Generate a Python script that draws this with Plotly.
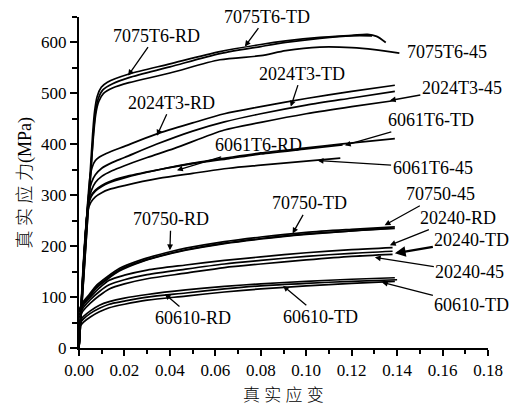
import plotly.graph_objects as go

# ---------------- data (true strain, true stress MPa) ----------------
strain_7075T6_RD = [0, 0.0060, 0.0069, 0.0080, 0.0098, 0.0125, 0.022, 0.040, 0.062, 0.080, 0.091, 0.106, 0.120, 0.127, 0.131, 0.135]
stress_7075T6_RD = [0, 420, 466, 494, 512, 522, 538, 558, 582, 596, 603, 610, 614, 616, 612, 600]
strain_7075T6_TD = [0, 0.0063, 0.0073, 0.0085, 0.0105, 0.0148, 0.022, 0.040, 0.062, 0.080, 0.091, 0.106, 0.120, 0.129]
stress_7075T6_TD = [0, 420, 465, 490, 507, 519, 531, 552, 578, 592, 600, 608, 613, 613]
strain_7075T6_45 = [0, 0.0064, 0.0074, 0.0087, 0.0108, 0.015, 0.022, 0.040, 0.062, 0.080, 0.091, 0.106, 0.120, 0.130, 0.141]
stress_7075T6_45 = [0, 418, 460, 484, 500, 511, 521, 540, 566, 574, 584, 591, 590, 586, 579]

strain_2024T3_RD = [0, 0.0048, 0.0058, 0.0072, 0.009, 0.012, 0.020, 0.034, 0.050, 0.064, 0.080, 0.100, 0.120, 0.139]
stress_2024T3_RD = [0, 335, 355, 368, 375, 382, 396, 420, 442, 460, 474, 490, 504, 516]
strain_2024T3_TD = [0, 0.0044, 0.0056, 0.0072, 0.010, 0.0145, 0.020, 0.034, 0.050, 0.064, 0.080, 0.100, 0.120, 0.139]
stress_2024T3_TD = [0, 305, 326, 340, 353, 364, 374, 400, 426, 444, 460, 477, 491, 504]
strain_2024T3_45 = [0, 0.0042, 0.0055, 0.0072, 0.010, 0.0145, 0.020, 0.030, 0.042, 0.064, 0.080, 0.100, 0.120, 0.139]
stress_2024T3_45 = [0, 290, 310, 325, 337, 348, 358, 374, 392, 428, 443, 460, 474, 486]

strain_6061T6_RD = [0, 0.0040, 0.0052, 0.0072, 0.010, 0.013, 0.020, 0.035, 0.050, 0.066, 0.080, 0.100, 0.116]
stress_6061T6_RD = [0, 280, 298, 310, 319, 326, 336, 350, 362, 372, 381, 391, 399]
strain_6061T6_TD = [0, 0.0040, 0.0052, 0.0072, 0.010, 0.013, 0.020, 0.035, 0.050, 0.066, 0.080, 0.100, 0.116, 0.139]
stress_6061T6_TD = [0, 278, 296, 308, 317, 324, 334, 350, 363, 374, 383, 393, 401, 411]
strain_6061T6_45 = [0, 0.0038, 0.0052, 0.0072, 0.010, 0.013, 0.020, 0.035, 0.050, 0.066, 0.080, 0.100, 0.115]
stress_6061T6_45 = [0, 268, 286, 297, 305, 311, 319, 333, 343, 353, 359, 367, 373]

strain_70750_RD = [0, 0.002, 0.0045, 0.0075, 0.0125, 0.0177, 0.028, 0.041, 0.047, 0.064, 0.080, 0.100, 0.120, 0.139]
stress_70750_RD = [75, 92, 105, 122, 140, 156, 174, 190, 196, 209, 218, 227, 233, 238]
strain_70750_TD = [0, 0.002, 0.0045, 0.0075, 0.0125, 0.0177, 0.028, 0.041, 0.047, 0.064, 0.080, 0.100, 0.120, 0.137]
stress_70750_TD = [72, 89, 102, 119, 137, 153, 171, 187, 193, 206, 215, 224, 230, 236]
strain_70750_45 = [0, 0.002, 0.0045, 0.0075, 0.0125, 0.0177, 0.028, 0.041, 0.047, 0.064, 0.080, 0.100, 0.120, 0.139]
stress_70750_45 = [70, 87, 100, 117, 135, 151, 170, 186, 192, 205, 214, 223, 230, 235]

strain_20240_RD = [0, 0.002, 0.005, 0.009, 0.0133, 0.020, 0.030, 0.047, 0.064, 0.080, 0.100, 0.120, 0.138]
stress_20240_RD = [70, 85, 100, 118, 133, 143, 153, 163, 172, 179, 187, 193, 197]
strain_20240_TD = [0, 0.002, 0.005, 0.009, 0.0133, 0.020, 0.030, 0.047, 0.064, 0.080, 0.100, 0.120, 0.138]
stress_20240_TD = [65, 80, 95, 111, 124, 134, 144, 155, 165, 172, 180, 186, 190]
strain_20240_45 = [0, 0.002, 0.005, 0.009, 0.0133, 0.020, 0.030, 0.047, 0.064, 0.080, 0.100, 0.120, 0.138]
stress_20240_45 = [60, 74, 88, 103, 116, 126, 136, 147, 158, 165, 173, 180, 184]

strain_60610_RD = [0, 0.002, 0.005, 0.009, 0.0133, 0.020, 0.030, 0.047, 0.064, 0.080, 0.100, 0.120, 0.139]
stress_60610_RD = [51, 62, 73, 84, 91, 98, 105, 114, 121, 126, 131, 135, 138]
strain_60610_TD = [0, 0.002, 0.005, 0.009, 0.0133, 0.020, 0.030, 0.047, 0.064, 0.080, 0.100, 0.120, 0.140]
stress_60610_TD = [46, 57, 68, 78, 86, 92, 100, 108, 116, 122, 127, 131, 134]
strain_60610_45 = [0, 0.002, 0.005, 0.009, 0.0133, 0.020, 0.030, 0.047, 0.064, 0.080, 0.100, 0.120, 0.139]
stress_60610_45 = [41, 51, 61, 71, 79, 86, 94, 102, 110, 116, 122, 127, 131]

x_ticks = [0.00, 0.02, 0.04, 0.06, 0.08, 0.10, 0.12, 0.14, 0.16, 0.18]
x_minor = [0.01, 0.03, 0.05, 0.07, 0.09, 0.11, 0.13, 0.15, 0.17]
y_ticks = [0, 100, 200, 300, 400, 500, 600]

# labels: text, tip strain, tip stress
label_text = ["7075T6-RD", "7075T6-TD", "2024T3-TD", "2024T3-45", "2024T3-RD",
              "6061T6-TD", "6061T6-RD", "6061T6-45", "70750-RD", "70750-TD",
              "70750-45", "20240-RD", "20240-TD", "20240-45", "60610-TD",
              "60610-TD", "60610-RD"]
label_x = [0.0216, 0.073, 0.0932, 0.1368, 0.0343, 0.117, 0.0431, 0.105, 0.040, 0.094,
           0.1345, 0.1368, 0.139, 0.1302, 0.1333, 0.0898, 0.0378]
label_y = [535, 592, 474, 486, 417, 398, 349, 368, 192, 225,
           241, 202, 186, 178, 129, 122, 106]

curves = [
    (strain_7075T6_RD, stress_7075T6_RD), (strain_7075T6_TD, stress_7075T6_TD), (strain_7075T6_45, stress_7075T6_45),
    (strain_2024T3_RD, stress_2024T3_RD), (strain_2024T3_TD, stress_2024T3_TD), (strain_2024T3_45, stress_2024T3_45),
    (strain_6061T6_RD, stress_6061T6_RD), (strain_6061T6_TD, stress_6061T6_TD), (strain_6061T6_45, stress_6061T6_45),
    (strain_70750_RD, stress_70750_RD), (strain_70750_TD, stress_70750_TD), (strain_70750_45, stress_70750_45),
    (strain_20240_RD, stress_20240_RD), (strain_20240_TD, stress_20240_TD), (strain_20240_45, stress_20240_45),
    (strain_60610_RD, stress_60610_RD), (strain_60610_TD, stress_60610_TD), (strain_60610_45, stress_60610_45),
]

SERIF = "Liberation Serif, Times New Roman, serif"
CJK = "Liberation Serif, Noto Sans CJK SC, serif"

fig = go.Figure()
for xs, ys in curves:
    fig.add_trace(go.Scatter(x=xs, y=ys, mode="lines",
                             line=dict(color="black", width=1.7, shape="spline", smoothing=0.8),
                             showlegend=False, hoverinfo="skip"))

# label offsets (pixels from arrow tip to text centre)
offsets = [(28, -40), (22, -30), (11, -33), (72, -13), (15, -33),
           (86, -25), (82, -25), (115, 7), (1, -31), (17, -30),
           (56, -31), (68, -27), (77, -13), (95, 15), (90, 23),
           (37, 31), (28, 24)]
annotations = []
for i, (t, lx, ly) in enumerate(zip(label_text, label_x, label_y)):
    ax, ay = offsets[i]
    annotations.append(dict(x=lx, y=ly, xref="x", yref="y", text=t, showarrow=True,
                            ax=ax, ay=ay, arrowhead=2, arrowsize=0.9,
                            arrowwidth=2.4 if (t == "20240-TD") else 1.3,
                            arrowcolor="black", standoff=0, startstandoff=0,
                            font=dict(family=SERIF, size=18, color="black")))
# 7075T6-45 label sits at the curve end
annotations.append(dict(x=0.1618, y=582, xref="x", yref="y", text="7075T6-45", showarrow=False,
                        xanchor="center", yanchor="middle",
                        font=dict(family=SERIF, size=18, color="black")))
# axis titles
annotations.append(dict(x=-0.132, y=0.5, xref="paper", yref="paper", text="真 实 应 力(MPa)",
                        textangle=-90, showarrow=False, xanchor="center", yanchor="middle",
                        font=dict(family=CJK, size=18, color="#000000", weight=300)))
annotations.append(dict(x=0.5, y=-0.145, xref="paper", yref="paper", text="真 实 应 变",
                        showarrow=False, xanchor="center", yanchor="middle",
                        font=dict(family=CJK, size=17, color="#000000", weight=300)))

fig.update_layout(
    width=515, height=407,
    margin=dict(l=79, r=27, t=17, b=59),
    paper_bgcolor="white", plot_bgcolor="white",
    annotations=annotations,
    xaxis=dict(range=[0, 0.18], tickmode="array", tickvals=x_ticks,
               ticktext=[f"{v:.2f}" for v in x_ticks],
               showline=True, linecolor="black", linewidth=2, mirror=False,
               ticks="outside", ticklen=6, tickwidth=1.5, tickcolor="black",
               minor=dict(tickmode="array", tickvals=x_minor, ticks="outside", ticklen=4,
                          tickwidth=1.5, tickcolor="black", showgrid=False),
               showgrid=False, zeroline=False,
               tickfont=dict(family=SERIF, size=17, color="black")),
    yaxis=dict(range=[0, 650], tickmode="array", tickvals=y_ticks,
               showline=True, linecolor="black", linewidth=2, mirror=False,
               ticks="outside", ticklen=7, tickwidth=1.5, tickcolor="black",
               minor=dict(dtick=50, ticks="outside", ticklen=5, tickwidth=1.5,
                          tickcolor="black", showgrid=False),
               showgrid=False, zeroline=False,
               tickfont=dict(family=SERIF, size=17, color="black")),
)

fig.write_html("out.html")
